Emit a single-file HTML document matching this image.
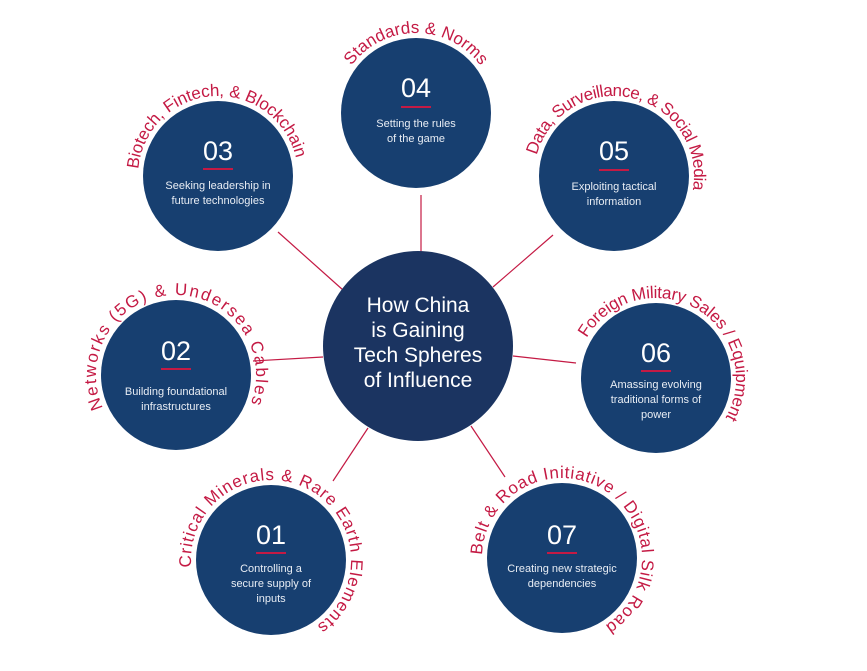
<!DOCTYPE html>
<html><head><meta charset="utf-8"><style>
html,body{margin:0;padding:0;background:#fff;}
svg{display:block;}
text{font-family:"Liberation Sans",sans-serif;}
.lab{fill:#c41a44;font-size:17px;}
.num{fill:#fff;font-size:27px;text-anchor:middle;}
.d{fill:#e8edf4;font-size:11px;text-anchor:middle;}
.c{fill:#fff;font-size:21px;text-anchor:middle;}
</style></head><body>
<svg width="867" height="671" viewBox="0 0 867 671" xmlns="http://www.w3.org/2000/svg">
<defs>
<path id="p1" d="M271,640 A80,80 0 1 1 271,480 A80,80 0 1 1 271,640"/>
<path id="p2" d="M176,455 A80,80 0 1 1 176,295 A80,80 0 1 1 176,455"/>
<path id="p3" d="M218,256 A80,80 0 1 1 218,96 A80,80 0 1 1 218,256"/>
<path id="p4" d="M416,193 A80,80 0 1 1 416,33 A80,80 0 1 1 416,193"/>
<path id="p5" d="M614,256 A80,80 0 1 1 614,96 A80,80 0 1 1 614,256"/>
<path id="p6" d="M656,458 A80,80 0 1 1 656,298 A80,80 0 1 1 656,458"/>
<path id="p7" d="M562,638 A80,80 0 1 1 562,478 A80,80 0 1 1 562,638"/>
</defs>
<g stroke="#c41a44" stroke-width="1.2">
<line x1="421" y1="195" x2="421" y2="252"/>
<line x1="278" y1="232" x2="343" y2="290"/>
<line x1="553" y1="235" x2="493" y2="287"/>
<line x1="253" y1="361" x2="323" y2="357"/>
<line x1="513" y1="356" x2="576" y2="363"/>
<line x1="333" y1="481" x2="368" y2="428"/>
<line x1="471" y1="426" x2="505" y2="477"/>
</g>
<circle cx="418" cy="346" r="95" fill="#1b3461"/>
<g fill="#173f70">
<circle cx="271" cy="560" r="75"/>
<circle cx="176" cy="375" r="75"/>
<circle cx="218" cy="176" r="75"/>
<circle cx="416" cy="113" r="75"/>
<circle cx="614" cy="176" r="75"/>
<circle cx="656" cy="378" r="75"/>
<circle cx="562" cy="558" r="75"/>
</g>
<text class="c" x="418" y="312">How China</text>
<text class="c" x="418" y="337">is Gaining</text>
<text class="c" x="418" y="362">Tech Spheres</text>
<text class="c" x="418" y="387">of Influence</text>

<g fill="#c41a44">
<rect x="256" y="552" width="30" height="2"/>
<rect x="161" y="368" width="30" height="2"/>
<rect x="203" y="168" width="30" height="2"/>
<rect x="401" y="106" width="30" height="2"/>
<rect x="599" y="169" width="30" height="2"/>
<rect x="641" y="370" width="30" height="2"/>
<rect x="547" y="552" width="30" height="2"/>
</g>

<text class="num" x="271" y="544">01</text>
<text class="d" x="271" y="572">Controlling a</text>
<text class="d" x="271" y="587">secure supply of</text>
<text class="d" x="271" y="602">inputs</text>

<text class="num" x="176" y="360">02</text>
<text class="d" x="176" y="395">Building foundational</text>
<text class="d" x="176" y="410">infrastructures</text>

<text class="num" x="218" y="160">03</text>
<text class="d" x="218" y="189">Seeking leadership in</text>
<text class="d" x="218" y="204">future technologies</text>

<text class="num" x="416" y="97">04</text>
<text class="d" x="416" y="127">Setting the rules</text>
<text class="d" x="416" y="142">of the game</text>

<text class="num" x="614" y="160">05</text>
<text class="d" x="614" y="190">Exploiting tactical</text>
<text class="d" x="614" y="205">information</text>

<text class="num" x="656" y="362">06</text>
<text class="d" x="656" y="388">Amassing evolving</text>
<text class="d" x="656" y="403">traditional forms of</text>
<text class="d" x="656" y="418">power</text>

<text class="num" x="562" y="544">07</text>
<text class="d" x="562" y="572">Creating new strategic</text>
<text class="d" x="562" y="587">dependencies</text>

<text class="lab" text-anchor="middle"><textPath href="#p1" startOffset="56.9%" textLength="335" lengthAdjust="spacing">Critical Minerals &amp; Rare Earth Elements</textPath></text>
<text class="lab" text-anchor="middle"><textPath href="#p2" startOffset="49.5%" textLength="314" lengthAdjust="spacing">Networks (5G) &amp; Undersea Cables</textPath></text>
<text class="lab" text-anchor="middle"><textPath href="#p3" startOffset="48.9%" textLength="226" lengthAdjust="spacing">Biotech, Fintech, &amp; Blockchain</textPath></text>
<text class="lab" text-anchor="middle"><textPath href="#p4" startOffset="50%" textLength="150" lengthAdjust="spacing">Standards &amp; Norms</textPath></text>
<text class="lab" text-anchor="middle"><textPath href="#p5" startOffset="53.5%" textLength="244" lengthAdjust="spacing">Data, Surveillance, &amp; Social Media</textPath></text>
<text class="lab" text-anchor="middle"><textPath href="#p6" startOffset="58.3%" textLength="251" lengthAdjust="spacing">Foreign Military Sales / Equipment</textPath></text>
<text class="lab" text-anchor="middle"><textPath href="#p7" startOffset="58.3%" textLength="328" lengthAdjust="spacing">Belt &amp; Road Initiative / Digital Silk Road</textPath></text>
</svg>
</body></html>
